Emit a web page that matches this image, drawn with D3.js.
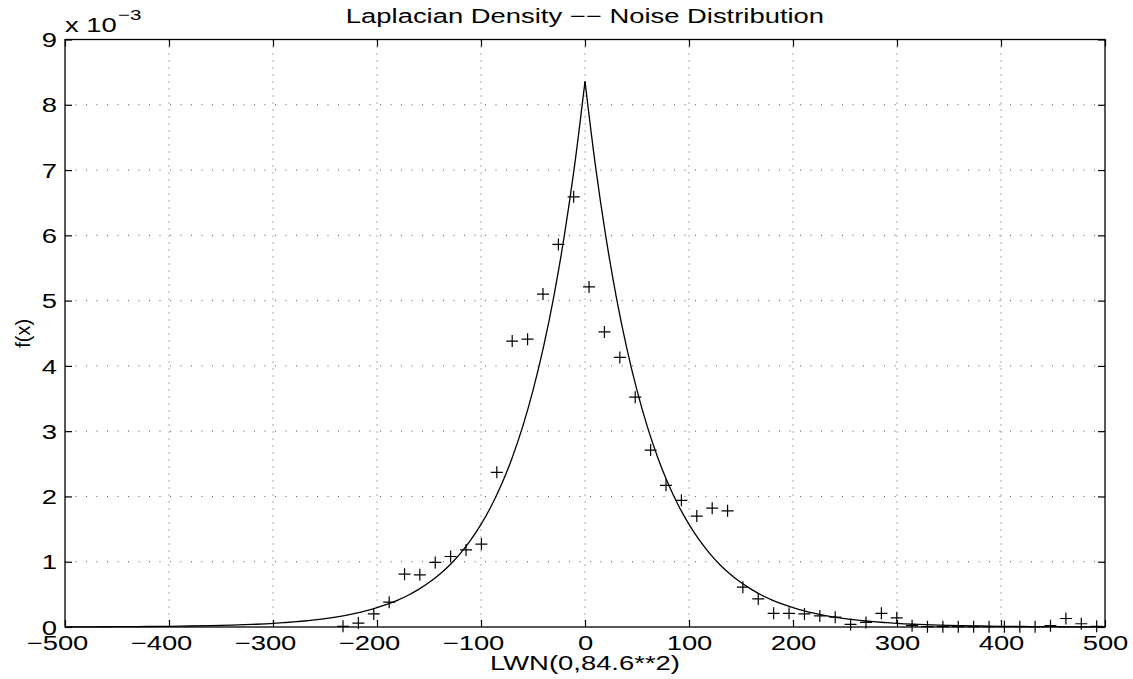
<!DOCTYPE html>
<html>
<head>
<meta charset="utf-8">
<script src="https://cdn.jsdelivr.net/npm/d3@7"></script>
<style>
  body { margin: 0; background: #fff; }
  text { font-family: "Liberation Sans", Arial, Helvetica, sans-serif; fill: #000; }
</style>
</head>
<body>
<script>
// Histogram samples (bin centre, density in units of 1e-3)
let binCenters = [
  -232.7, -217.9, -203.1, -188.3, -173.5, -158.8, -144.0, -129.2, -114.4, -99.6,
  -84.8, -70.0, -55.2, -40.4, -25.6, -10.9, 3.9, 18.7, 33.5, 48.3,
  63.1, 77.9, 92.7, 107.5, 122.3, 137.1, 151.8, 166.6, 181.4, 196.2,
  211.0, 225.8, 240.6, 255.4, 270.2, 285.0, 299.8, 314.5, 329.3, 344.1,
  358.9, 373.7, 388.5, 403.3, 418.1, 432.8, 447.6, 462.4, 477.2, 492.0,
];
let binDensity = [
  0.01, 0.06, 0.2, 0.38, 0.81, 0.8, 0.99, 1.08, 1.18, 1.27,
  2.37, 4.38, 4.41, 5.1, 5.86, 6.59, 5.21, 4.52, 4.13, 3.52,
  2.71, 2.17, 1.94, 1.7, 1.82, 1.78, 0.61, 0.43, 0.21, 0.21,
  0.2, 0.17, 0.15, 0.04, 0.07, 0.21, 0.14, 0.02, 0.005, 0.005,
  0.005, 0.005, 0.005, 0.005, 0.005, 0.005, 0.02, 0.13, 0.05, 0.01,
];

// Fitted density curve, one side (distance from 0, density in 1e-3), symmetric
let curveOffsets = [
  0, 10, 20, 30, 40, 50, 60, 70, 80, 90, 100, 110, 120, 130, 140, 150, 160,
  170, 180, 190, 200, 210, 220, 230, 240, 250, 260, 270, 280, 290, 300, 320,
  340, 360, 380, 400, 420, 440, 460, 480, 500,
];
let curveDensity = [
  8.358, 7.071, 5.983, 5.062, 4.283, 3.624, 3.066, 2.594, 2.195, 1.857, 1.571,
  1.329, 1.125, 0.951, 0.805, 0.681, 0.576, 0.487, 0.412, 0.349, 0.295, 0.25,
  0.211, 0.179, 0.151, 0.128, 0.108, 0.092, 0.078, 0.066, 0.055, 0.04, 0.028,
  0.02, 0.015, 0.01, 0.0075, 0.0053, 0.0038, 0.0027, 0.002,
];

let xTicks = [-500, -400, -300, -200, -100, 0, 100, 200, 300, 400, 500];
let yTicks = [0, 1, 2, 3, 4, 5, 6, 7, 8, 9];

// Dimensions
let width = 1133;
let height = 679;
let margin = { top: 39.5, bottom: 52, left: 65, right: 28 };
let stretchK = 1.37; // text in the picture is drawn wide

let svg = d3
  .select("body")
  .append("svg")
  .attr("width", width)
  .attr("height", height)
  .style("background", "#fff");

let xScale = d3
  .scaleLinear()
  .domain([-500, 500])
  .range([margin.left, width - margin.right]);

let yScale = d3
  .scaleLinear()
  .domain([0, 9])
  .range([height - margin.bottom, margin.top]);

function stretch(sel, k) {
  sel.each(function () {
    let w = this.getComputedTextLength();
    d3.select(this)
      .attr("textLength", w * k)
      .attr("lengthAdjust", "spacingAndGlyphs");
  });
}

// Dotted grid
svg
  .append("g")
  .selectAll("line")
  .data(xTicks.slice(1, -1))
  .join("line")
  .attr("x1", (d) => xScale(d))
  .attr("x2", (d) => xScale(d))
  .attr("y1", yScale(9))
  .attr("y2", yScale(0))
  .attr("stroke", "#555")
  .attr("stroke-width", 1)
  .attr("stroke-dasharray", "1,6");

svg
  .append("g")
  .selectAll("line")
  .data(yTicks.slice(1, -1))
  .join("line")
  .attr("x1", xScale(-500))
  .attr("x2", xScale(500))
  .attr("y1", (d) => yScale(d))
  .attr("y2", (d) => yScale(d))
  .attr("stroke", "#555")
  .attr("stroke-width", 1)
  .attr("stroke-dasharray", "1,9.5");

// Axes with inward ticks
let xAxis = svg
  .append("g")
  .attr("transform", `translate(0, ${yScale(0)})`)
  .call(
    d3.axisBottom(xScale).tickValues(xTicks).tickSize(-7).tickSizeOuter(0).tickPadding(9),
  );

svg
  .append("g")
  .attr("transform", `translate(0, ${yScale(9)})`)
  .call(d3.axisTop(xScale).tickValues(xTicks).tickSize(-7).tickSizeOuter(0).tickFormat(""));

let yAxis = svg
  .append("g")
  .attr("transform", `translate(${xScale(-500)}, 0)`)
  .call(
    d3.axisLeft(yScale).tickValues(yTicks).tickSize(-7).tickSizeOuter(0).tickPadding(8),
  );

svg
  .append("g")
  .attr("transform", `translate(${xScale(500)}, 0)`)
  .call(d3.axisRight(yScale).tickValues(yTicks).tickSize(-7).tickSizeOuter(0).tickFormat(""));

svg.selectAll(".domain").remove();
svg.selectAll(".tick line").attr("stroke", "#000").attr("stroke-width", 1.2);

xAxis
  .selectAll("text")
  .attr("x", (d) => (d < 0 ? -8 : 0))
  .style("font-size", "20px")
  .call(stretch, stretchK);

yAxis
  .selectAll("text")
  .attr("dy", "0.36em")
  .style("font-size", "20px")
  .call(stretch, stretchK);

// Box
svg
  .append("rect")
  .attr("x", xScale(-500))
  .attr("y", yScale(9))
  .attr("width", xScale(500) - xScale(-500))
  .attr("height", yScale(0) - yScale(9))
  .attr("fill", "none")
  .attr("stroke", "#000")
  .attr("stroke-width", 1.3);

// Density curve, drawn as two monotone branches meeting at the peak
let line = d3
  .line()
  .x((d) => xScale(d[0]))
  .y((d) => yScale(d[1]))
  .curve(d3.curveMonotoneX);

let rightBranch = curveOffsets.map((o, i) => [o, curveDensity[i]]);
let leftBranch = curveOffsets.map((o, i) => [-o, curveDensity[i]]).reverse();

svg
  .selectAll(".branch")
  .data([leftBranch, rightBranch])
  .join("path")
  .attr("class", "branch")
  .attr("d", line)
  .attr("fill", "none")
  .attr("stroke", "#000")
  .attr("stroke-width", 1.3);

// Histogram markers (+)
let markers = svg
  .selectAll(".mark")
  .data(binCenters.map((c, i) => ({ x: c, y: binDensity[i] })))
  .join("g")
  .attr("class", "mark")
  .attr("transform", (d) => `translate(${xScale(d.x)}, ${yScale(d.y)})`);

markers
  .append("path")
  .attr("d", "M-6,0H6M0,-6V6")
  .attr("stroke", "#000")
  .attr("stroke-width", 1.2)
  .attr("fill", "none");

// Title and labels
svg
  .append("text")
  .attr("x", xScale(0))
  .attr("y", 23)
  .text("Laplacian Density \u2212\u2212 Noise Distribution")
  .style("text-anchor", "middle")
  .style("font-size", "20px")
  .call(stretch, stretchK);

svg
  .append("text")
  .attr("x", xScale(0))
  .attr("y", 670)
  .text("LWN(0,84.6**2)")
  .style("text-anchor", "middle")
  .style("font-size", "20px")
  .call(stretch, stretchK);

svg
  .append("text")
  .attr("transform", `translate(30, ${yScale(4.5)}) rotate(-90)`)
  .text("f(x)")
  .style("text-anchor", "middle")
  .style("font-size", "20px");

// Exponent label
let expo = svg.append("g");
expo
  .append("text")
  .attr("x", xScale(-500))
  .attr("y", 32)
  .text("x 10")
  .style("font-size", "20px")
  .call(stretch, stretchK);

expo
  .append("text")
  .attr("x", 118)
  .attr("y", 20)
  .text("\u22123")
  .style("font-size", "15px")
  .call(stretch, stretchK);
</script>
</body>
</html>
